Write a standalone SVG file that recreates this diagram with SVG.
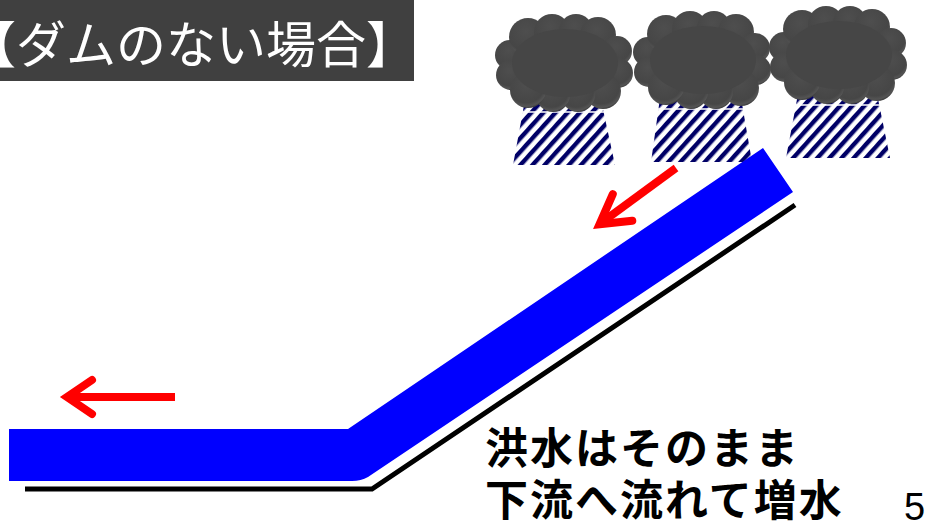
<svg xmlns="http://www.w3.org/2000/svg" width="929" height="528" viewBox="0 0 929 528">
  <style>
    .title { font-family: "Noto Sans CJK JP", "Noto Sans", sans-serif; font-size: 50px; fill: #ffffff; }
    .caption { font-family: "Noto Sans CJK JP", "Noto Sans", sans-serif; font-size: 43px; font-weight: bold; fill: #000000; letter-spacing: 2px; }
    .page { font-family: "Liberation Sans", Arial, sans-serif; font-size: 38px; fill: #000000; }
    .flow { fill: none; stroke: #ff0000; stroke-width: 8; }
    .bump { fill: url(#bumpShade); }
    .rain { fill: url(#rainStripes); }
  </style>
  <defs>
    <radialGradient id="bumpShade" cx="0.45" cy="0.35" r="0.65">
      <stop offset="0" stop-color="#4e4e4e"/>
      <stop offset="0.78" stop-color="#464646"/>
      <stop offset="0.93" stop-color="#545454"/>
      <stop offset="1" stop-color="#3c3c3c"/>
    </radialGradient>
    <pattern id="rainStripes" patternUnits="userSpaceOnUse" width="9" height="9" patternTransform="rotate(42)">
      <rect x="0" y="0" width="4.4" height="9" fill="#000066"/>
    </pattern>
    <!-- storm cloud built from overlapping bumps, centred on 0,0 -->
    <g id="cloud">
      <circle class="bump" cx="-55" cy="-8" r="15"/>
      <circle class="bump" cx="-54" cy="12" r="15"/>
      <circle class="bump" cx="-37" cy="-26" r="19"/>
      <circle class="bump" cx="-13" cy="-31" r="18"/>
      <circle class="bump" cx="11" cy="-32" r="17"/>
      <circle class="bump" cx="33" cy="-28" r="18"/>
      <circle class="bump" cx="52" cy="-12" r="15"/>
      <circle class="bump" cx="53" cy="10" r="15"/>
      <circle class="bump" cx="38" cy="28" r="18"/>
      <circle class="bump" cx="13" cy="32" r="17"/>
      <circle class="bump" cx="-12" cy="32" r="17"/>
      <circle class="bump" cx="-37" cy="27" r="18"/>
      <ellipse cx="0" cy="0" rx="53" ry="34" fill="#464646"/>
    </g>
  </defs>

  <rect width="929" height="528" fill="#ffffff"/>

  <!-- heading plate -->
  <g id="heading">
    <rect x="0" y="0" width="414" height="81" fill="#404040"/>
    <text class="title" x="-34" y="63">【ダムのない場合】</text>
  </g>

  <!-- rain falling from each cloud -->
  <g id="rain1">
    <polygon class="rain" points="525,100 601,100 615,165 513,165"/>
    <line x1="520" y1="112" x2="606" y2="112" stroke="#ffffff" stroke-width="1.5"/>
  </g>
  <g id="rain2">
    <polygon class="rain" points="660,98 741,98 752,162 651,162"/>
    <line x1="656" y1="109" x2="745" y2="109" stroke="#ffffff" stroke-width="1.5"/>
  </g>
  <g id="rain3">
    <polygon class="rain" points="798,94 877,94 890,158 786,158"/>
    <line x1="794" y1="105" x2="881" y2="105" stroke="#ffffff" stroke-width="1.5"/>
  </g>

  <!-- clouds -->
  <g id="cloud1"><use href="#cloud" transform="translate(565,63)"/></g>
  <g id="cloud2"><use href="#cloud" transform="translate(703,60)"/></g>
  <g id="cloud3"><use href="#cloud" transform="translate(839,55)"/></g>

  <!-- river channel: bed line and water -->
  <g id="riverbed">
    <polyline points="25,489 372,489 795,205" fill="none" stroke="#000000" stroke-width="5"/>
  </g>
  <g id="river">
    <path d="M9,429 H348 L763,148 L793,192 L368,477 Q361,481 352,481 H9 Z" fill="#0000ff"/>
  </g>

  <!-- flow direction arrows -->
  <g id="connectors">
    <g id="flow-upstream">
      <line class="flow" x1="676" y1="168" x2="601" y2="223"/>
      <polyline class="flow" points="612.8,194.1 599.5,224.3 632.3,220.7" stroke-linecap="round" stroke-linejoin="miter"/>
    </g>
    <g id="flow-downstream">
      <line class="flow" x1="175" y1="397" x2="70" y2="397"/>
      <polyline class="flow" points="92,380 67,397 92,414" stroke-linecap="round" stroke-linejoin="miter"/>
    </g>
  </g>

  <!-- caption -->
  <g id="caption">
    <text class="caption" x="485" y="464">洪水はそのまま</text>
    <text class="caption" x="485" y="516">下流へ流れて増水</text>
  </g>
  <g id="page-number">
    <text class="page" x="904" y="520">5</text>
  </g>
</svg>
